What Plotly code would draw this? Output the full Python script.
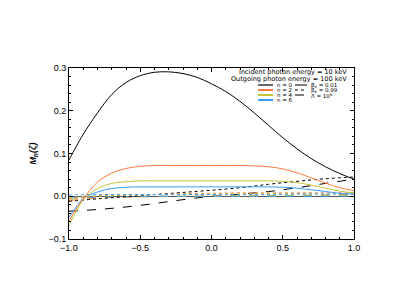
import plotly.graph_objects as go

# --- data ---
x_fine = [-1.0, -0.95, -0.9, -0.8, -0.7, -0.6, -0.5, -0.4, -0.3, -0.2, -0.1,
          0.0, 0.1, 0.2, 0.3, 0.4, 0.5, 0.6, 0.7, 0.8, 0.9, 1.0]
x_coarse = [-1.0, -0.8, -0.6, -0.4, -0.2, 0.0, 0.2, 0.4, 0.6, 0.8, 1.0]

# solid: beta_e = 0.01
n0_solid = [0.085, 0.116, 0.145, 0.195, 0.238, 0.266, 0.282, 0.29, 0.291, 0.287, 0.278,
            0.263, 0.245, 0.222, 0.195, 0.166, 0.137, 0.111, 0.088, 0.069, 0.053, 0.04]
n2_solid = [-0.058, -0.03, -0.006, 0.033, 0.054, 0.065, 0.07, 0.072, 0.072, 0.072, 0.072,
            0.072, 0.072, 0.072, 0.071, 0.069, 0.064, 0.055, 0.043, 0.031, 0.02, 0.013]
n4_solid = [-0.068, -0.036, -0.008, 0.018, 0.03, 0.034, 0.036, 0.036, 0.036, 0.036, 0.036,
            0.036, 0.036, 0.036, 0.036, 0.036, 0.035, 0.032, 0.026, 0.019, 0.012, 0.008]
n6_solid = [-0.05, -0.025, -0.005, 0.01, 0.018, 0.021, 0.022, 0.022, 0.022, 0.022, 0.022,
            0.022, 0.022, 0.022, 0.022, 0.022, 0.021, 0.019, 0.015, 0.011, 0.007, 0.005]

# dotted: beta_e = 0.99
n0_dot = [-0.012, -0.006, -0.001, 0.004, 0.009, 0.014, 0.02, 0.028, 0.035, 0.041, 0.045]
n2_dot = [-0.005, 0.0, 0.002, 0.004, 0.006, 0.007, 0.008, 0.008, 0.008, 0.008, 0.008]
n4_dot = [-0.003, 0.001, 0.003, 0.004, 0.005, 0.005, 0.006, 0.006, 0.006, 0.006, 0.006]
n6_dot = [0.003, 0.004, 0.004, 0.004, 0.004, 0.004, 0.004, 0.004, 0.005, 0.005, 0.005]

# dashed: Lambda = 1e6
n0_dash = [-0.035, -0.031, -0.025, -0.017, -0.008, 0.0, 0.005, 0.011, 0.02, 0.03, 0.04]
n2_dash = [-0.01, -0.004, -0.002, -0.001, 0.0, 0.0, 0.001, 0.001, 0.002, 0.003, 0.004]
n4_dash = [-0.007, -0.003, -0.001, 0.0, 0.0, 0.001, 0.001, 0.001, 0.002, 0.002, 0.002]
n6_dash = [-0.004, -0.002, -0.001, 0.0, 0.0, 0.0, 0.0, 0.0, 0.0, 0.0, 0.0]

colors = {"n0": "#000000", "n2": "#FF7A40", "n4": "#C4C43A", "n6": "#3A9CF2"}
n_labels = ["n = 0", "n = 2", "n = 4", "n = 6"]
style_labels = ["β<sub>e</sub> = 0.01", "β<sub>e</sub> = 0.99", "Λ = 10<sup>6</sup>"]
info_lines = ["Incident photon energy = 10 keV", "Outgoing photon energy = 100 keV"]

fig = go.Figure()

def add(x, y, c, dash, w=1):
    fig.add_trace(go.Scatter(x=x, y=y, mode="lines", line=dict(color=c, width=w, dash=dash, shape="spline"),
                             showlegend=False, hoverinfo="skip"))

for key, ys in [("n0", n0_dash), ("n2", n2_dash), ("n4", n4_dash), ("n6", n6_dash)]:
    add(x_coarse, ys, colors[key], "dash")
for key, ys in [("n0", n0_dot), ("n2", n2_dot), ("n4", n4_dot), ("n6", n6_dot)]:
    add(x_coarse, ys, colors[key], "dot")
for key, ys in [("n6", n6_solid), ("n4", n4_solid), ("n2", n2_solid), ("n0", n0_solid)]:
    add(x_fine, ys, colors[key], "solid")

L, R, T, B = 61, 61, 60, 60
W, H = 407, 291
pw, ph = W - L - R, H - T - B

def px(xp):
    return (xp - L) / pw

def py(yp):
    return (H - B - yp) / ph

ff = "DejaVu Sans, Liberation Sans, sans-serif"
info_font = dict(family=ff, size=6.5, color="#000")
leg_font = dict(family=ff, size=5.5, color="#000")
annotations = []
for i, t in enumerate(info_lines):
    annotations.append(dict(x=px(341), y=py(64 + 6.5 * i), xref="paper", yref="paper", text=t,
                            showarrow=False, xanchor="right", yanchor="middle", font=info_font))
shapes = []
keys = ["n0", "n2", "n4", "n6"]
row_y = [77, 82, 87, 92]
for i, (k, lab) in enumerate(zip(keys, n_labels)):
    yy = row_y[i]
    shapes.append(dict(type="line", xref="paper", yref="paper", x0=px(250), x1=px(265), y0=py(yy), y1=py(yy),
                       line=dict(color=colors[k], width=1.2 if k == "n0" else 2)))
    annotations.append(dict(x=px(267), y=py(yy), xref="paper", yref="paper", text=lab, showarrow=False,
                            xanchor="left", yanchor="middle", font=leg_font))
for i, (d, lab) in enumerate(zip(["solid", "dot", "dash"], style_labels)):
    yy = row_y[i]
    shapes.append(dict(type="line", xref="paper", yref="paper", x0=px(287), x1=px(299), y0=py(yy), y1=py(yy),
                       line=dict(color="#000", width=1, dash=d)))
    annotations.append(dict(x=px(301), y=py(yy), xref="paper", yref="paper", text=lab, showarrow=False,
                            xanchor="left", yanchor="middle", font=leg_font))

axfont = dict(family="Liberation Sans, Arial, sans-serif", size=9, color="#000")
fig.update_layout(
    width=W, height=H, margin=dict(l=L, r=R, t=T, b=B),
    paper_bgcolor="white", plot_bgcolor="white",
    annotations=annotations, shapes=shapes,
    xaxis=dict(range=[-1, 1], dtick=0.5, tickformat=".1f", ticks="inside", ticklen=4, tickcolor="#000",
               showline=True, linecolor="#000", linewidth=1, mirror="ticks", showgrid=False, zeroline=False,
               tickfont=axfont, minor=dict(dtick=0.1, ticks="inside", ticklen=2, tickcolor="#000", showgrid=False)),
    yaxis=dict(range=[-0.1, 0.3], dtick=0.1, tickformat=".1f", ticks="inside", ticklen=4, tickcolor="#000",
               showline=True, linecolor="#000", linewidth=1, mirror="ticks", showgrid=False,
               zeroline=True, zerolinecolor="#555", zerolinewidth=1,
               tickfont=axfont, minor=dict(dtick=0.02, ticks="inside", ticklen=2, tickcolor="#000", showgrid=False),
               title=dict(text="<b><i>M<sub>n</sub>(ζ)</i></b>", font=dict(axfont, size=9), standoff=10)),
)

fig.write_html("out.html")
